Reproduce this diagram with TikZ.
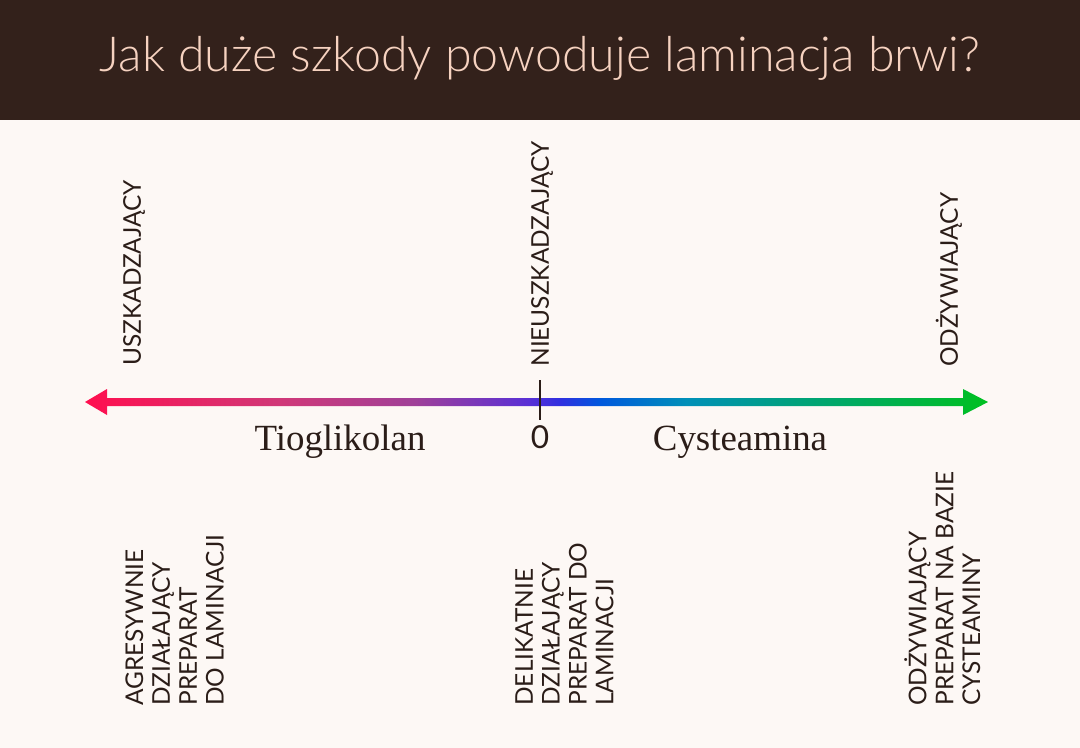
\documentclass[tikz,border=0pt]{standalone}
\usepackage{fontspec}
\setmainfont{Lato}[UprightFont=* Light]
\newfontfamily\labelfont{Lato}
\newfontfamily\seriffont{Liberation Serif}
\usepackage{tikz}
\usetikzlibrary{calc}
\definecolor{paper}{HTML}{FDF8F5}
\definecolor{header}{HTML}{33211B}
\definecolor{peach}{HTML}{F6D2C0}
\definecolor{ink}{HTML}{2B1D18}
\definecolor{gA}{HTML}{FF0F4F}
\definecolor{gB}{HTML}{D03878}
\definecolor{gC}{HTML}{A04098}
\definecolor{gD}{HTML}{5A30D5}
\definecolor{gE}{HTML}{3030E0}
\definecolor{gF}{HTML}{0058DD}
\definecolor{gG}{HTML}{0090B8}
\definecolor{gH}{HTML}{00A080}
\definecolor{gI}{HTML}{00B050}
\definecolor{gJ}{HTML}{00C020}
\pgfdeclarehorizontalshading{scalegrad}{100bp}{color(0bp)=(gA); color(25bp)=(gA); color(35.8bp)=(gB); color(43.2bp)=(gC); color(49.5bp)=(gD); color(51.3bp)=(gE); color(53.5bp)=(gF); color(58.3bp)=(gG); color(63.9bp)=(gH); color(69.4bp)=(gI); color(75bp)=(gJ); color(100bp)=(gJ)}
\tikzstyle{titlelabel}=[font=\fontsize{27.5}{33}\selectfont, text=peach, inner sep=0pt]
\tikzstyle{toplabel}=[rotate=90, anchor=west, inner sep=0pt, font=\labelfont\fontsize{13.9}{15.3}\selectfont, text=ink]
\tikzstyle{desc}=[rotate=90, anchor=north west, inner sep=0pt, align=left, font=\labelfont\fontsize{13.9}{15.3}\selectfont, text=ink]
\tikzstyle{chem}=[anchor=base, inner sep=0pt, font=\seriffont\fontsize{21}{25}\selectfont, text=ink]
\tikzstyle{tick}=[draw=ink, line width=3pt*0.5669]
\begin{document}
\begin{tikzpicture}[x=0.02cm, y=-0.02cm]
    \useasboundingbox (0,0) rectangle (1080,748);
    % background and header band
    \fill[paper] (0,0) rectangle (1080,748);
    \fill[header] (0,0) rectangle (1080,120);
    \node[titlelabel] (title) at (540,58) {Jak duże szkody powoduje laminacja brwi?};

    % the scale
    \coordinate (lend) at (85,402);
    \coordinate (rend) at (988,402);
    \coordinate (zero) at (540,402);
    \shade[shading=scalegrad] (lend) -- ++(22,-13) -- ++(0,9) -- ($(rend)+(-25,-4)$) -- ++(0,-9) -- (rend)
        -- ++(-25,13) -- ++(0,-9) -- ($(lend)+(22,4)$) -- ++(0,9) -- cycle;
    \path[tick] ($(zero)+(0,-22)$) -- ($(zero)+(0,18)$);
    \node[text=ink, inner sep=0pt, font=\labelfont\fontsize{18}{20}\selectfont] (zlabel) at (540,437) {0};

    \node[chem] (tio) at (340,450) {Tioglikolan};
    \node[chem] (cys) at (740,450) {Cysteamina};

    % labels above the scale
    \node[toplabel] (damage) at (134,366) {USZKADZAJĄCY};
    \node[toplabel] (neutral) at (542,367) {NIEUSZKADZAJĄCY};
    \node[toplabel] (nourish) at (949,367) {ODŻYWIAJĄCY};

    % descriptions below
    \node[desc] (aggr) at (125,706) {AGRESYWNIE\\DZIAŁAJĄCY\\PREPARAT\\DO LAMINACJI};
    \node[desc] (gentle) at (515,706) {DELIKATNIE\\DZIAŁAJĄCY\\PREPARAT DO\\LAMINACJI};
    \node[desc] (cyst) at (904,706) {ODŻYWIAJĄCY\\PREPARAT NA BAZIE\\CYSTEAMINY};
\end{tikzpicture}
\end{document}
